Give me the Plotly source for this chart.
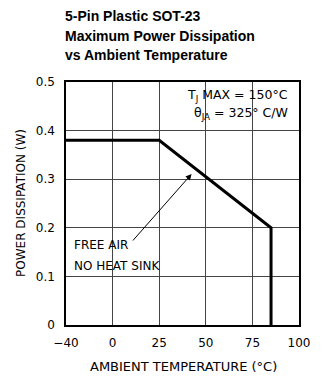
import plotly.graph_objects as go

# ---- data ----
temps_c = [-40, 25, 85, 85]          # ambient temperature (°C)
power_w = [0.38, 0.38, 0.2, 0.0]     # max power dissipation (W)
x_tick_values = [-40, 0, 25, 50, 75, 100]
x_tick_labels = ["\u221240", "0", "25", "50", "75", "100"]
y_tick_values = [0, 0.1, 0.2, 0.3, 0.4, 0.5]
y_tick_labels = ["0", "0.1", "0.2", "0.3", "0.4", "0.5"]
title_lines = ["5-Pin Plastic SOT-23", "Maximum Power Dissipation", "vs Ambient Temperature"]


# The axis is compressed below 0 °C: the -40..0 span is drawn as wide as a 25° step.
def axis_pos(t):
    return t * 25.0 / 40.0 if t < 0 else t


xs = [axis_pos(t) for t in temps_c]

W, H = 322, 379
L, R, T, B = 66, 13, 82, 54
PW, PH = W - L - R, H - T - B


def px(x):
    return (x - L) / PW


def py(y):
    return (H - B - y) / PH


FONT = "DejaVu Sans"

fig = go.Figure()
fig.add_trace(go.Scatter(x=xs, y=power_w, mode="lines",
                         line=dict(color="black", width=3), hoverinfo="skip",
                         showlegend=False))

shapes = [
    dict(type="rect", xref="paper", yref="paper", x0=px(185), x1=px(306),
         y0=py(129), y1=py(85), fillcolor="white", line=dict(width=0), layer="between"),
    dict(type="rect", xref="paper", yref="paper", x0=px(67), x1=px(160),
         y0=py(275), y1=py(235), fillcolor="white", line=dict(width=0), layer="between"),
]

ann = []
for i, line in enumerate(title_lines):
    ann.append(dict(text=f"<b>{line}</b>", xref="paper", yref="paper",
                    x=px(63), y=py(16 + 19.7 * i), xanchor="left", yanchor="middle",
                    showarrow=False,
                    font=dict(family="Liberation Sans", size=14, color="black")))

ann += [
    dict(text="T<sub>J</sub> MAX = 150°C", xref="paper", yref="paper",
         x=px(300), y=py(96), xanchor="right", yanchor="middle", showarrow=False,
         font=dict(family=FONT, size=12.5, color="black")),
    dict(text="\u03b8<sub>JA</sub> = 325° C/W", xref="paper", yref="paper",
         x=px(300), y=py(113), xanchor="right", yanchor="middle", showarrow=False,
         font=dict(family=FONT, size=12.5, color="black")),
    dict(text="FREE AIR", xref="paper", yref="paper",
         x=px(72), y=py(245), xanchor="left", yanchor="middle", showarrow=False,
         font=dict(family=FONT, size=12, color="black")),
    dict(text="NO HEAT SINK", xref="paper", yref="paper",
         x=px(72), y=py(266), xanchor="left", yanchor="middle", showarrow=False,
         font=dict(family=FONT, size=12, color="black")),
    dict(text="", xref="paper", yref="paper", x=px(197), y=py(174),
         ax=-60, ay=68, showarrow=True, arrowhead=2, arrowsize=1.2,
         arrowwidth=1, arrowcolor="black", standoff=0, startstandoff=0),
    dict(text="AMBIENT TEMPERATURE (°C)", xref="paper", yref="paper",
         x=px(189), y=py(366), xanchor="center", yanchor="middle", showarrow=False,
         font=dict(family=FONT, size=13, color="black")),
    dict(text="POWER DISSIPATION (W)", xref="paper", yref="paper",
         x=px(19), y=py(203), xanchor="center", yanchor="middle", showarrow=False,
         textangle=-90, font=dict(family=FONT, size=12, color="black")),
]

fig.update_layout(
    width=W, height=H,
    margin=dict(l=L, r=R, t=T, b=B),
    paper_bgcolor="white", plot_bgcolor="white",
    shapes=shapes, annotations=ann,
    xaxis=dict(range=[axis_pos(-40), 100],
               tickmode="array", tickvals=[axis_pos(v) for v in x_tick_values],
               ticktext=x_tick_labels,
               showgrid=True, gridcolor="#444", gridwidth=1, zeroline=False,
               showline=True, linecolor="black", linewidth=1.5, mirror=True,
               ticks="outside", ticklen=6, tickcolor="rgba(0,0,0,0)",
               tickfont=dict(family=FONT, size=12, color="black"), fixedrange=True),
    yaxis=dict(range=[0, 0.5], tickmode="array", tickvals=y_tick_values,
               ticktext=y_tick_labels,
               showgrid=True, gridcolor="#444", gridwidth=1, zeroline=False,
               showline=True, linecolor="black", linewidth=1.5, mirror=True,
               ticks="outside", ticklen=7, tickcolor="rgba(0,0,0,0)",
               tickfont=dict(family=FONT, size=12, color="black"), fixedrange=True),
)

fig.write_html("out.html", config=dict(displayModeBar=False),
               post_script="document.body.style.margin='0';document.body.style.overflow='hidden';")
